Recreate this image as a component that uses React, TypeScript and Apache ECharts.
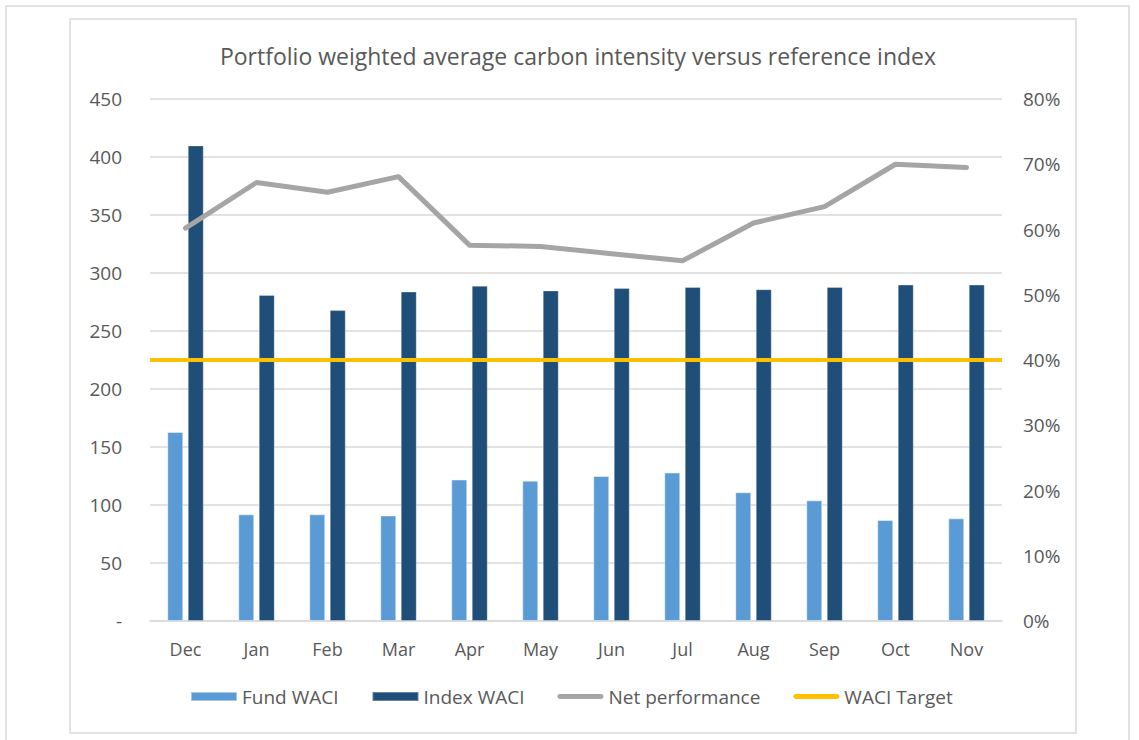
import React, { useEffect, useRef } from "react";
import * as echarts from "echarts";

const months = ["Dec", "Jan", "Feb", "Mar", "Apr", "May", "Jun", "Jul", "Aug", "Sep", "Oct", "Nov"];
const fundWaci = [163, 92, 92, 91, 122, 121, 125, 128, 111, 104, 87, 88.5];
const indexWaci = [410, 281, 268, 284, 289, 285, 287, 288, 286, 288, 290, 290];
const netPerformance = [60.2, 67.2, 65.7, 68.1, 57.6, 57.4, 56.3, 55.2, 61.0, 63.5, 70.0, 69.5];
const waciTarget = 225;

const titleText = "Portfolio weighted average carbon intensity versus reference index";
const FONT = "'Open Sans', sans-serif";
const TXT = "#595959";
const LINE_ICON = "path://M2,0 L44,0 A2.5,2.5 0 0 1 44,5 L2,5 A2.5,2.5 0 0 1 2,0 Z";

export default function App() {
  const ref = useRef<HTMLDivElement>(null);
  useEffect(() => {
    document.body.style.margin = "0";
    if (!ref.current) return;
    const chart = echarts.init(ref.current, undefined, { renderer: "svg" });
    chart.setOption({
      animation: false,
      backgroundColor: "#ffffff",
      textStyle: { fontFamily: FONT },
      title: {
        text: titleText,
        left: 573,
        textAlign: "center",
        top: 39,
        textStyle: { fontFamily: FONT, fontSize: 23, fontWeight: "normal", color: TXT },
      },
      graphic: [
        { type: "rect", shape: { x: 6, y: 6, width: 1123, height: 780 }, style: { fill: "none", stroke: "#D9D9D9", lineWidth: 1.5 }, silent: true },
        { type: "rect", shape: { x: 70, y: 19, width: 1006, height: 714 }, style: { fill: "none", stroke: "#D9D9D9", lineWidth: 1.5 }, silent: true },
      ],
      legend: {
        bottom: 34,
        left: 190,
        padding: 0,
        itemWidth: 46,
        itemHeight: 9,
        itemGap: 33,
        textStyle: { fontFamily: FONT, fontSize: 19, color: TXT },
        data: [
          { name: "Fund WACI", icon: "rect" },
          { name: "Index WACI", icon: "rect" },
          { name: "Net performance", icon: LINE_ICON },
          { name: "WACI Target", icon: LINE_ICON },
        ],
      },
      grid: { left: 150, right: 137, top: 99, bottom: 119, containLabel: false },
      xAxis: {
        type: "category",
        data: months,
        axisLine: { show: true, lineStyle: { color: "#D9D9D9", width: 1.5 } },
        axisTick: { show: false },
        axisLabel: { color: TXT, fontFamily: FONT, fontSize: 18, margin: 19 },
      },
      yAxis: [
        {
          type: "value",
          min: 0,
          max: 450,
          interval: 50,
          axisLine: { show: false },
          axisTick: { show: false },
          splitLine: { show: true, lineStyle: { color: "#D9D9D9", width: 1.5 } },
          axisLabel: {
            color: TXT,
            fontFamily: FONT,
            fontSize: 19,
            margin: 28,
            formatter: (v: number) => (v === 0 ? "-" : String(v)),
          },
        },
        {
          type: "value",
          min: 0,
          max: 80,
          interval: 10,
          position: "right",
          axisLine: { show: false },
          axisTick: { show: false },
          splitLine: { show: false },
          axisLabel: {
            color: TXT,
            fontFamily: FONT,
            fontSize: 19,
            margin: 21,
            formatter: (v: number) => v + "%",
          },
        },
      ],
      series: [
        {
          name: "Fund WACI",
          type: "bar",
          data: fundWaci,
          barWidth: 16,
          barGap: "28%",
          itemStyle: { color: "#5B9BD5", borderColor: "rgba(255,255,255,0.45)", borderWidth: 1 },
        },
        {
          name: "Index WACI",
          type: "bar",
          data: indexWaci,
          barWidth: 16,
          barGap: "28%",
          itemStyle: { color: "#1F4E79", borderColor: "rgba(255,255,255,0.3)", borderWidth: 1 },
        },
        {
          name: "Net performance",
          type: "line",
          yAxisIndex: 1,
          data: netPerformance,
          symbol: "none",
          showSymbol: false,
          lineStyle: { color: "#A5A5A5", width: 5, cap: "round", join: "round" },
          itemStyle: { color: "#A5A5A5" },
          z: 5,
        },
        {
          name: "WACI Target",
          type: "line",
          yAxisIndex: 0,
          data: [],
          symbol: "none",
          lineStyle: { color: "#FFC000", width: 4 },
          itemStyle: { color: "#FFC000" },
          z: 6,
          markLine: {
            silent: true,
            symbol: ["none", "none"],
            label: { show: false },
            lineStyle: { color: "#FFC000", width: 4, type: "solid" },
            data: [{ yAxis: waciTarget }],
          },
        },
      ],
    });
    return () => chart.dispose();
  }, []);
  return <div ref={ref} style={{ width: 1139, height: 740 }} />;
}
